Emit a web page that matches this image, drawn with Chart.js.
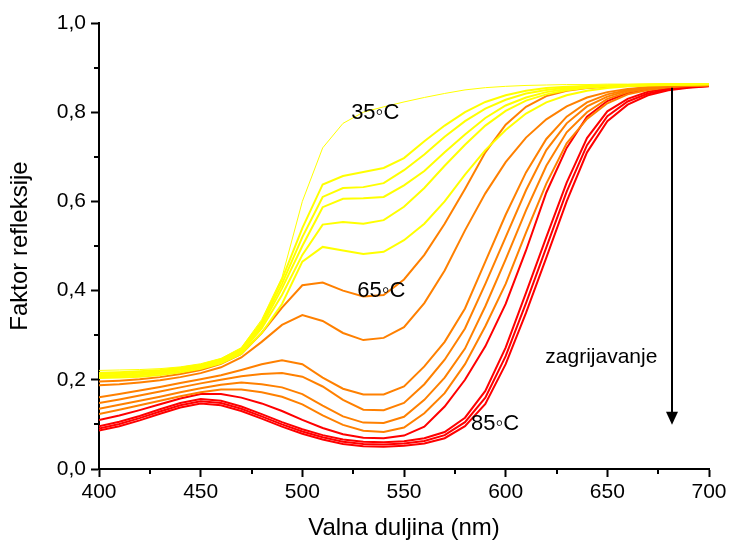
<!DOCTYPE html>
<html>
<head>
<meta charset="utf-8">
<script src="https://cdn.jsdelivr.net/npm/chart.js@4.4.1/dist/chart.umd.min.js"></script>
<style>
  html, body { margin: 0; padding: 0; background: #fff; }
  #wrap { width: 730px; height: 543px; }
</style>
</head>
<body>
<div id="wrap"><canvas id="chart" width="730" height="543"></canvas></div>
<script>
// valne duljine (nm)
const valna = [400, 410, 420, 430, 440, 450, 460, 470, 480, 490, 500, 510, 520, 530, 540, 550,
               560, 570, 580, 590, 600, 610, 620, 630, 640, 650, 660, 670, 680, 690, 700];

// faktor refleksije, od 35 °C (gore) do 85 °C (dolje)
const k35 = [0.221, 0.222, 0.223, 0.225, 0.229, 0.236, 0.248, 0.272, 0.335, 0.43, 0.60, 0.72, 0.775, 0.80, 0.812, 0.823,
             0.833, 0.842, 0.85, 0.855, 0.858, 0.86, 0.861, 0.862, 0.862, 0.863, 0.863, 0.863, 0.864, 0.864, 0.864];
const k2 = [0.216, 0.217, 0.219, 0.222, 0.227, 0.234, 0.246, 0.27, 0.33, 0.425, 0.54, 0.638, 0.657, 0.666, 0.675, 0.697,
            0.735, 0.77, 0.80, 0.823, 0.838, 0.848, 0.854, 0.857, 0.859, 0.86, 0.861, 0.862, 0.862, 0.863, 0.863];
const k3 = [0.213, 0.214, 0.216, 0.219, 0.225, 0.232, 0.244, 0.267, 0.325, 0.415, 0.52, 0.61, 0.63, 0.632, 0.641, 0.67,
            0.705, 0.745, 0.78, 0.808, 0.828, 0.842, 0.85, 0.855, 0.858, 0.86, 0.861, 0.862, 0.862, 0.863, 0.863];
const k4 = [0.21, 0.211, 0.213, 0.217, 0.223, 0.23, 0.242, 0.265, 0.32, 0.405, 0.50, 0.587, 0.606, 0.607, 0.61, 0.636,
            0.668, 0.71, 0.75, 0.787, 0.815, 0.833, 0.845, 0.852, 0.856, 0.859, 0.86, 0.861, 0.862, 0.862, 0.863];
const k5 = [0.207, 0.208, 0.21, 0.214, 0.22, 0.228, 0.24, 0.262, 0.315, 0.39, 0.48, 0.548, 0.554, 0.55, 0.558, 0.588,
            0.63, 0.68, 0.727, 0.77, 0.803, 0.826, 0.84, 0.849, 0.855, 0.858, 0.86, 0.861, 0.862, 0.862, 0.863];
const k6 = [0.204, 0.205, 0.207, 0.211, 0.217, 0.225, 0.237, 0.258, 0.305, 0.37, 0.465, 0.498, 0.49, 0.482, 0.487, 0.513,
            0.55, 0.60, 0.66, 0.715, 0.76, 0.797, 0.822, 0.838, 0.848, 0.854, 0.858, 0.86, 0.861, 0.862, 0.862];
const k65 = [0.196, 0.198, 0.201, 0.206, 0.213, 0.222, 0.236, 0.258, 0.305, 0.362, 0.412, 0.418, 0.40, 0.387, 0.39, 0.425,
             0.48, 0.55, 0.628, 0.71, 0.772, 0.812, 0.836, 0.848, 0.854, 0.857, 0.859, 0.86, 0.861, 0.861, 0.862];
const k8 = [0.188, 0.19, 0.194, 0.199, 0.206, 0.215, 0.228, 0.25, 0.285, 0.323, 0.345, 0.332, 0.305, 0.289, 0.294, 0.318,
            0.372, 0.445, 0.535, 0.618, 0.688, 0.743, 0.784, 0.813, 0.833, 0.845, 0.852, 0.856, 0.859, 0.86, 0.861];
const k9 = [0.161, 0.168, 0.176, 0.184, 0.193, 0.201, 0.21, 0.222, 0.235, 0.244, 0.235, 0.205, 0.18, 0.167, 0.167, 0.185,
            0.23, 0.285, 0.36, 0.465, 0.57, 0.665, 0.74, 0.79, 0.822, 0.84, 0.85, 0.856, 0.859, 0.86, 0.861];
const k10 = [0.148, 0.156, 0.165, 0.174, 0.183, 0.192, 0.2, 0.208, 0.213, 0.215, 0.207, 0.185, 0.155, 0.133, 0.132, 0.148,
             0.19, 0.245, 0.315, 0.415, 0.52, 0.625, 0.715, 0.775, 0.813, 0.835, 0.848, 0.855, 0.858, 0.86, 0.861];
const k11 = [0.135, 0.144, 0.153, 0.162, 0.172, 0.181, 0.189, 0.194, 0.19, 0.183, 0.168, 0.142, 0.118, 0.104, 0.103, 0.117,
             0.155, 0.205, 0.27, 0.365, 0.47, 0.58, 0.68, 0.755, 0.80, 0.83, 0.845, 0.853, 0.857, 0.86, 0.861];
const k12 = [0.123, 0.133, 0.143, 0.153, 0.163, 0.172, 0.178, 0.178, 0.172, 0.162, 0.145, 0.12, 0.099, 0.086, 0.083, 0.093,
             0.125, 0.17, 0.235, 0.32, 0.415, 0.53, 0.64, 0.73, 0.785, 0.82, 0.84, 0.85, 0.856, 0.859, 0.86];
const k13 = [0.11, 0.12, 0.132, 0.145, 0.158, 0.168, 0.168, 0.16, 0.147, 0.13, 0.11, 0.092, 0.078, 0.07, 0.069, 0.075,
             0.095, 0.14, 0.2, 0.275, 0.37, 0.49, 0.62, 0.72, 0.79, 0.825, 0.843, 0.852, 0.857, 0.86, 0.861];
const k14 = [0.096, 0.106, 0.119, 0.134, 0.148, 0.157, 0.153, 0.14, 0.123, 0.105, 0.089, 0.076, 0.066, 0.061, 0.06, 0.062,
             0.069, 0.083, 0.115, 0.175, 0.272, 0.395, 0.52, 0.642, 0.742, 0.802, 0.83, 0.846, 0.853, 0.857, 0.86];
const k15 = [0.091, 0.101, 0.114, 0.129, 0.143, 0.152, 0.148, 0.135, 0.118, 0.1, 0.084, 0.071, 0.061, 0.056, 0.055, 0.057,
             0.063, 0.076, 0.105, 0.16, 0.253, 0.372, 0.497, 0.622, 0.726, 0.791, 0.824, 0.842, 0.851, 0.856, 0.859];
const k85 = [0.086, 0.096, 0.109, 0.124, 0.138, 0.147, 0.143, 0.13, 0.113, 0.095, 0.079, 0.066, 0.056, 0.051, 0.05, 0.052,
             0.057, 0.069, 0.096, 0.146, 0.235, 0.35, 0.474, 0.6, 0.71, 0.78, 0.817, 0.838, 0.849, 0.855, 0.858];

// oznake na slici
const oznake = [
    { text: '35\u25E6C', x: 524, y: 0.798 },
    { text: '65\u25E6C', x: 527, y: 0.40 },
    { text: '85\u25E6C', x: 583, y: 0.10 }
];
const strelica = { x: 682, yOd: 0.855, yDo: 0.099, text: 'zagrijavanje', tx: 619.5, ty: 0.251 };

const zuta = '#ffff00', narancasta = '#ff8000', crvena = '#ff0000';
const krivulje = [
    [k35, zuta, 1], [k2, zuta, 2], [k3, zuta, 2], [k4, zuta, 2], [k5, zuta, 2], [k6, zuta, 2],
    [k65, narancasta, 2], [k8, narancasta, 2], [k9, narancasta, 2], [k10, narancasta, 2], [k11, narancasta, 2], [k12, narancasta, 2],
    [k13, crvena, 2], [k14, crvena, 2], [k15, crvena, 2], [k85, crvena, 2]
];

const datasets = krivulje.map(([vals, boja, debljina]) => ({
    data: vals.map((v, i) => ({ x: valna[i], y: v })),
    borderColor: boja,
    borderWidth: debljina,
    pointRadius: 0,
    tension: 0,
    fill: false
}));

const font = 'Liberation Sans, Arial, sans-serif';

// sporedne crtice, tekst i strelica
const dodaci = {
    id: 'dodaci',
    afterDraw(chart) {
        const c = chart.ctx;
        const xs = chart.scales.x, ys = chart.scales.y;
        c.save();
        c.strokeStyle = '#000';
        c.lineWidth = 2;
        [425, 475, 525, 575, 625, 675].forEach(v => {
            const px = Math.round(xs.getPixelForValue(v));
            c.beginPath(); c.moveTo(px, ys.bottom); c.lineTo(px, ys.bottom + 5); c.stroke();
        });
        [0.1, 0.3, 0.5, 0.7, 0.9].forEach(v => {
            const py = Math.round(ys.getPixelForValue(v));
            c.beginPath(); c.moveTo(xs.left, py); c.lineTo(xs.left - 5, py); c.stroke();
        });

        c.fillStyle = '#000';
        c.textBaseline = 'middle';
        c.textAlign = 'left';
        c.font = '22px ' + font;
        oznake.forEach(o => {
            c.fillText(o.text, xs.getPixelForValue(o.x), ys.getPixelForValue(o.y));
        });
        c.font = '21px ' + font;
        c.fillText(strelica.text, xs.getPixelForValue(strelica.tx), ys.getPixelForValue(strelica.ty));

        const ax = Math.round(xs.getPixelForValue(strelica.x));
        const y0 = ys.getPixelForValue(strelica.yOd), y1 = ys.getPixelForValue(strelica.yDo);
        c.lineWidth = 2;
        c.beginPath(); c.moveTo(ax, y0); c.lineTo(ax, y1 - 10); c.stroke();
        c.beginPath();
        c.moveTo(ax - 6, y1 - 13); c.lineTo(ax + 6, y1 - 13); c.lineTo(ax, y1); c.closePath();
        c.fill();
        c.restore();
    }
};

const ctx = document.getElementById('chart').getContext('2d');
new Chart(ctx, {
    type: 'line',
    data: { datasets: datasets },
    options: {
        responsive: false,
        animation: false,
        layout: { padding: { top: 23, right: 21, left: 0, bottom: 0 } },
        plugins: { legend: { display: false }, tooltip: { enabled: false } },
        scales: {
            x: {
                type: 'linear',
                min: 400, max: 700,
                afterFit: s => { s.height = 74; },
                border: { display: true, color: '#000', width: 2 },
                grid: { drawOnChartArea: false, drawTicks: true, tickLength: 8, tickWidth: 2, tickColor: '#000', color: '#000' },
                ticks: { stepSize: 50, color: '#000', padding: 3, font: { family: font, size: 21 }, maxRotation: 0 },
                title: { display: true, text: 'Valna duljina (nm)', color: '#000', font: { family: font, size: 24 }, padding: { top: 0, bottom: 0 } }
            },
            y: {
                min: 0, max: 1,
                afterFit: s => { s.width = 99; },
                border: { display: true, color: '#000', width: 2 },
                grid: { drawOnChartArea: false, drawTicks: true, tickLength: 8, tickWidth: 2, tickColor: '#000', color: '#000' },
                ticks: { stepSize: 0.2, color: '#000', padding: 5, font: { family: font, size: 21 },
                         callback: v => v.toFixed(1).replace('.', ',') },
                title: { display: true, text: 'Faktor refleksije', color: '#000', font: { family: font, size: 24 }, padding: { top: 6, bottom: 0 } }
            }
        }
    },
    plugins: [dodaci]
});
</script>
</body>
</html>
